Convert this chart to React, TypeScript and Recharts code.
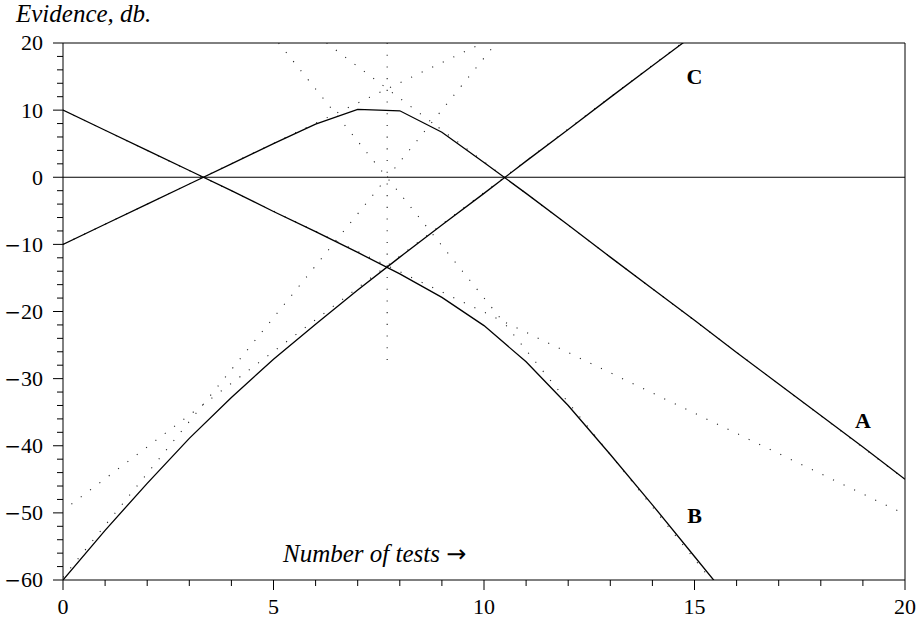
import React from 'react';
import { ComposedChart, Line, XAxis, YAxis, ReferenceLine, ReferenceDot } from 'recharts';

// number of tests (all of them found defective)
const tests = [0, 1, 2, 3, 4, 5, 6, 7, 8, 9, 10, 11, 12, 13, 14, 15, 16, 17, 18, 19, 20];

// evidence in db at each whole number of tests
const evidenceA = [-10.0, -7.0, -4.0, -1.0, 2.0, 5.0, 7.9, 10.1, 9.9, 6.7, 2.2, -2.4, -7.1, -11.9, -16.6, -21.3, -26.1, -30.8, -35.5, -40.2, -45.0];
const evidenceB = [10.0, 7.0, 4.0, 1.0, -2.0, -5.1, -8.1, -11.2, -14.4, -17.9, -22.1, -27.5, -34.0, -41.3, -48.8, -56.5, -64.2];
const evidenceC = [-60.0, -52.6, -45.6, -38.9, -32.8, -27.1, -21.9, -16.8, -11.9, -7.1, -2.4, 2.4, 7.1, 11.9, 16.6, 21.3];

// dotted straight guide lines, [tests, db] end points
const guideAvsB = [[0, -10], [9.97, 20]];
const guideAvsC = [[6.26, 20], [20, -45]];
const guideBvsA = [[0, 10], [20, -50.2]];
const guideBvsC = [[5.12, 20], [15.4, -60]];
const guideCvsA = [[0.2, -48.7], [14.7, 20]];
const guideCvsB = [[0, -59.6], [10.29, 20]];
const guideCross = [[7.7, 20], [7.7, -28.8]];

const xTicks = [0, 1, 2, 3, 4, 5, 6, 7, 8, 9, 10, 11, 12, 13, 14, 15, 16, 17, 18, 19, 20];
const yTicks = [-60, -58, -56, -54, -52, -50, -48, -46, -44, -42, -40, -38, -36, -34, -32, -30, -28, -26, -24, -22, -20,
    -18, -16, -14, -12, -10, -8, -6, -4, -2, 0, 2, 4, 6, 8, 10, 12, 14, 16, 18, 20];

const curveNames = ['A', 'B', 'C'];
const curveLabelX = [19, 15, 15];
const curveLabelY = [-36.2, -50.3, 15.0];

const serif = "'Liberation Serif', 'DejaVu Serif', serif";
const symbolFont = "'DejaVu Sans', sans-serif";

const toPoints = (values: number[]) => values.map((v, i) => ({ x: tests[i], y: v }));
const toGuide = (pts: number[][]) => pts.map(p => ({ x: p[0], y: p[1] }));

// long TeX-style minus sign in front of negative labels
const renderNumber = (v: number) =>
    v < 0 ? (
        <>
            <tspan fontFamily={symbolFont} fontSize={20}>{'\u2212'}</tspan>
            <tspan>{Math.abs(v)}</tspan>
        </>
    ) : (
        String(v)
    );

const YTick = (props: any) => {
    const { x, y, payload } = props;
    const major = payload.value % 10 === 0;
    return (
        <g>
            <line x1={x} x2={x - (major ? 10 : 6)} y1={y} y2={y} stroke="#000" strokeWidth={1} />
            {major && (
                <text x={x - 20} y={y} dy="0.34em" textAnchor="end" fontFamily={serif} fontSize={22} fill="#000">
                    {renderNumber(payload.value)}
                </text>
            )}
        </g>
    );
};

const XTick = (props: any) => {
    const { x, y, payload } = props;
    const major = payload.value % 5 === 0;
    return (
        <g>
            <line x1={x} x2={x} y1={y} y2={y + (major ? 10 : 6)} stroke="#000" strokeWidth={1} />
            {major && (
                <text x={x} y={y + 34} textAnchor="middle" fontFamily={serif} fontSize={22} fill="#000">
                    {renderNumber(payload.value)}
                </text>
            )}
        </g>
    );
};

const dotted = { stroke: '#222', strokeWidth: 1.1, strokeDasharray: '1.1 10.6' };

const App: React.FC = () => {
    const guides = [guideAvsB, guideAvsC, guideBvsA, guideBvsC, guideCvsA, guideCvsB, guideCross];
    return (
        <div style={{ position: 'absolute', left: 0, top: 0, width: 923, height: 619, background: '#fff' }}>
            <ComposedChart width={923} height={619} margin={{ top: 43, right: 18, bottom: 0, left: 0 }}>
                <XAxis
                    dataKey="x"
                    type="number"
                    domain={[0, 20]}
                    ticks={xTicks}
                    interval={0}
                    allowDataOverflow
                    height={39}
                    tickSize={0}
                    tickMargin={0}
                    tickLine={false}
                    tick={<XTick />}
                    axisLine={{ stroke: '#000', strokeWidth: 1 }}
                />
                <YAxis
                    type="number"
                    domain={[-60, 20]}
                    ticks={yTicks}
                    interval={0}
                    allowDataOverflow
                    width={63}
                    tickSize={0}
                    tickMargin={0}
                    tickLine={false}
                    tick={<YTick />}
                    axisLine={{ stroke: '#000', strokeWidth: 1 }}
                />
                <ReferenceLine y={20} stroke="#000" strokeWidth={1} />
                <ReferenceLine x={20} stroke="#000" strokeWidth={1} />
                <ReferenceLine y={0} stroke="#000" strokeWidth={1} />

                {guides.map((g, i) => (
                    <Line
                        key={'g' + i}
                        data={toGuide(g)}
                        dataKey="y"
                        type="linear"
                        dot={false}
                        activeDot={false}
                        isAnimationActive={false}
                        {...dotted}
                    />
                ))}

                <Line data={toPoints(evidenceA)} dataKey="y" type="linear" stroke="#000" strokeWidth={1.3} dot={false} activeDot={false} isAnimationActive={false} />
                <Line data={toPoints(evidenceB)} dataKey="y" type="linear" stroke="#000" strokeWidth={1.3} dot={false} activeDot={false} isAnimationActive={false} />
                <Line data={toPoints(evidenceC)} dataKey="y" type="linear" stroke="#000" strokeWidth={1.3} dot={false} activeDot={false} isAnimationActive={false} />

                {curveNames.map((name, i) => (
                    <ReferenceDot
                        key={name}
                        x={curveLabelX[i]}
                        y={curveLabelY[i]}
                        r={0}
                        fill="none"
                        stroke="none"
                        label={{ value: name, position: 'center', fill: '#000', fontSize: 22, fontWeight: 'bold', fontFamily: serif }}
                    />
                ))}
            </ComposedChart>
            <svg width={923} height={619} style={{ position: 'absolute', left: 0, top: 0, pointerEvents: 'none' }}>
                <text x={16} y={22} fontFamily={serif} fontStyle="italic" fontSize={25} fill="#000">Evidence, db.</text>
                <text x={283} y={562} fontFamily={serif} fontStyle="italic" fontSize={25} fill="#000">
                    Number of tests{' '}
                    <tspan fontFamily={symbolFont} fontStyle="normal" fontSize={24}>{'\u2192'}</tspan>
                </text>
            </svg>
        </div>
    );
};

export default App;
